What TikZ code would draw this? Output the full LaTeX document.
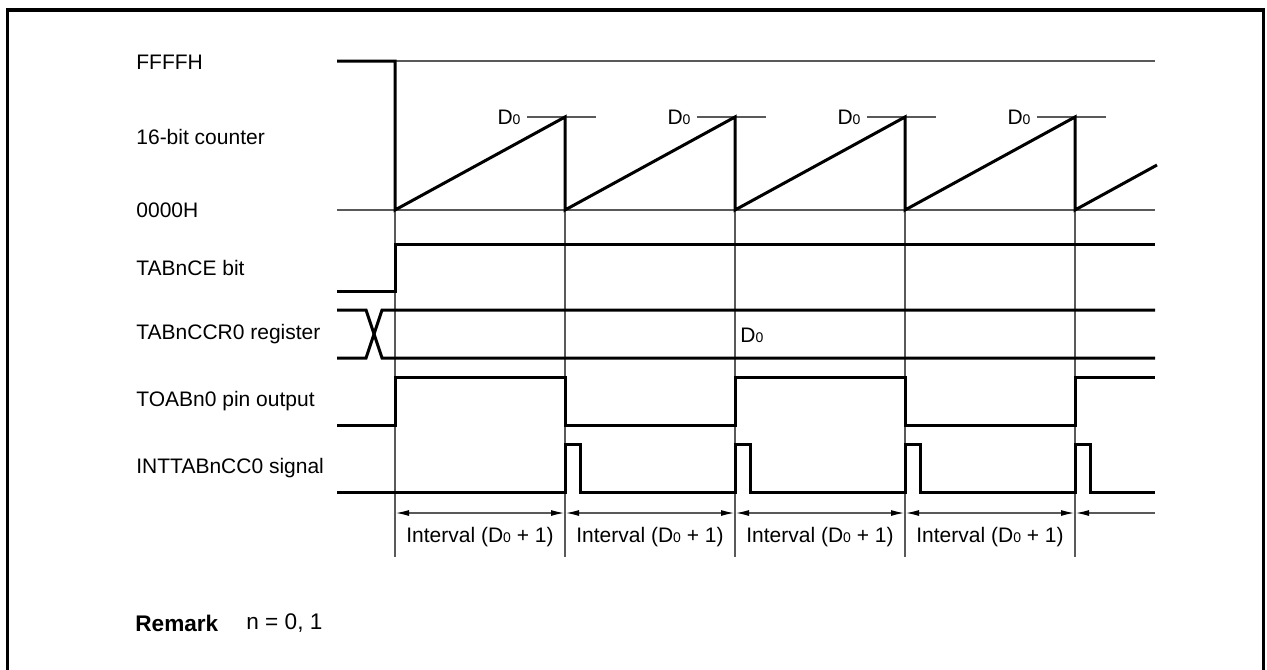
\documentclass[tikz,border=0pt]{standalone}
\usepackage{fontspec}
\setmainfont{Liberation Sans}
\usetikzlibrary{arrows.meta}
\newcommand{\Dz}{D{\fontsize{7}{8}\selectfont 0}}
\begin{document}
\begin{tikzpicture}[x=0.5pt,y=-0.5pt,
  sig/.style={line width=1.5pt, line join=miter},
  gridl/.style={line width=0.55pt, draw=black!65},
  lab/.style={anchor=west, font=\fontsize{10.5}{12}\selectfont, inner sep=0pt},
  txt/.style={font=\fontsize{10.5}{12}\selectfont, inner sep=0pt},
  remf/.style={anchor=west, font=\fontsize{11.3}{13}\selectfont, inner sep=0pt},
  tipd/.tip={Latex[length=6.5pt,width=3pt,black]},
  dim/.style={gridl, tipd-tipd}]
\useasboundingbox (0,0) rectangle (1267,669);
% frame
\draw[line width=1.8pt] (7.5,720) -- (7.5,10) -- (1263.5,10) -- (1263.5,720);
% signal names
\node[lab] (lF) at (136,62) {FFFFH};
\node[lab] (lC) at (136,137) {16-bit counter};
\node[lab] (l0) at (136,210) {0000H};
\node[lab] (lCE) at (136,268) {TABnCE bit};
\node[lab] (lCCR) at (136,334) {TABnCCR0 register};
\node[lab] (lTO) at (136,401) {TOABn0 pin output};
\node[lab] (lINT) at (136,468) {INTTABnCC0 signal};
% reference lines
\draw[gridl] (395,61) -- (1155,61);
\draw[gridl] (337,210) -- (1155,210);
\foreach \x in {395,565,735,905,1075}{
  \draw[gridl] (\x,210) -- (\x,557);
}
\foreach \p/\n in {565/a,735/b,905/c,1075/d}{
  \draw[gridl] (\p-38,117) -- (\p+31,117);
  \node[txt] (d\n) at (\p-56,117) {\Dz};
}
% counter
\draw[sig] (337,61) -- (395,61) -- (395,210) -- (565,117) -- (565,210) -- (735,117) -- (735,210)
  -- (905,117) -- (905,210) -- (1075,117) -- (1075,210) -- (1157,165);
% TABnCE
\draw[sig] (337,291) -- (395,291) -- (395,244) -- (1155,244);
% TABnCCR0
\draw[sig] (337,310) -- (366,310) -- (382,358) -- (1155,358);
\draw[sig] (337,358) -- (366,358) -- (382,310) -- (1155,310);
\node[lab] (dccr) at (740,335) {\Dz};
% TOABn0
\draw[sig] (337,425) -- (395,425) -- (395,377) -- (565,377) -- (565,425) -- (735,425) -- (735,377)
  -- (905,377) -- (905,425) -- (1075,425) -- (1075,377) -- (1155,377);
% INTTABnCC0
\draw[sig] (337,492) -- (565,492) -- (565,444) -- (580,444) -- (580,492)
  -- (735,492) -- (735,444) -- (750,444) -- (750,492)
  -- (905,492) -- (905,444) -- (920,444) -- (920,492)
  -- (1075,492) -- (1075,444) -- (1090,444) -- (1090,492) -- (1155,492);
% intervals
\foreach \a/\b/\n in {395/565/1,565/735/2,735/905/3,905/1075/4}{
  \coordinate (ia\n) at (\a+1,513);
  \coordinate (ib\n) at (\b-1,513);
  \draw[dim] (ia\n) -- (ib\n);
  \node[txt] (it\n) at ({(\a+\b)/2},537) {Interval (\Dz{} + 1)};
}
\coordinate (ie1) at (1155,513);
\coordinate (ie2) at (1076,513);
\draw[gridl, -tipd] (ie1) -- (ie2);
% remark
\node[remf, font=\fontsize{11.3}{13}\selectfont\bfseries] (rem) at (135,623) {Remark};
\node[remf] (remt) at (246,623) {n = 0, 1};
\end{tikzpicture}
\end{document}
